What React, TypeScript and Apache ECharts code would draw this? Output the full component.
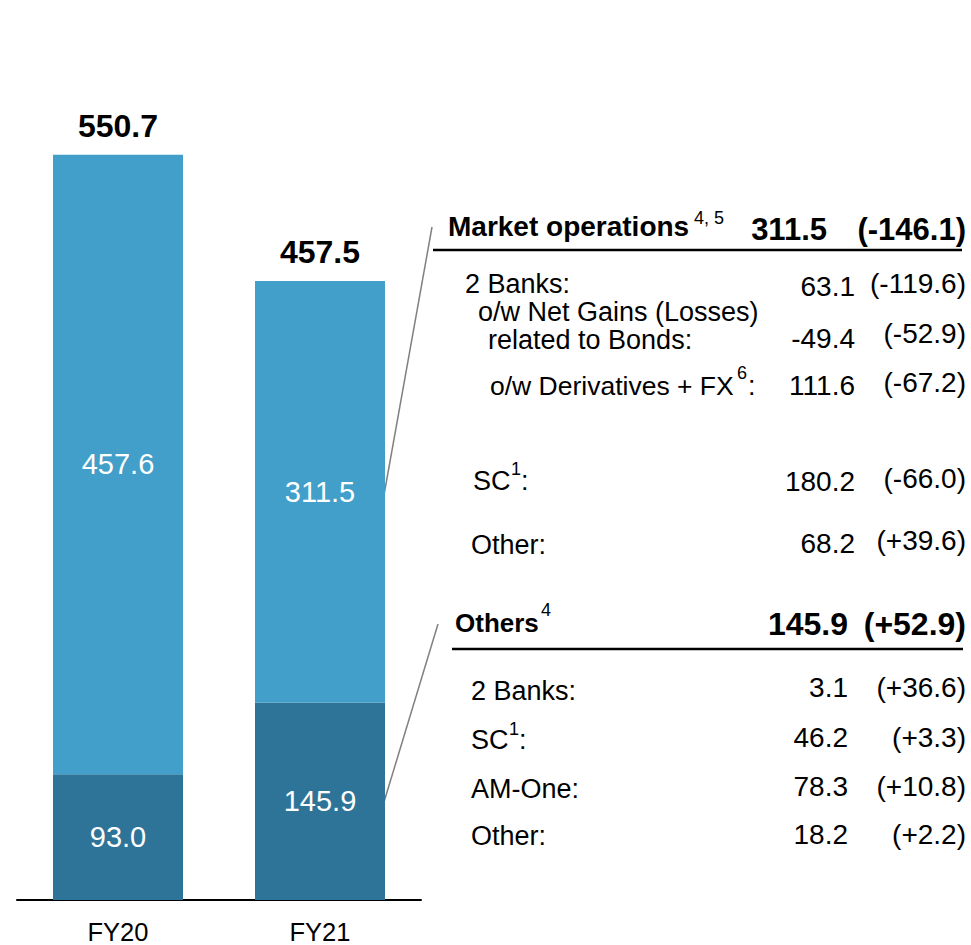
import React, { useEffect, useRef } from "react";
import * as echarts from "echarts";

const categories = ["FY20", "FY21"];
const othersValues = [93.0, 145.9];
const marketOpsValues = [457.6, 311.5];
const totals = [550.7, 457.5];

// Detail panel: Market operations
const moTitle = "Market operations";
const moTitleSup = "4, 5";
const moTotal = "311.5";
const moChange = "(-146.1)";
const moLabels = ["2 Banks:", "o/w Net Gains (Losses)", "related to Bonds:", "o/w Derivatives + FX", "SC", "Other:"];
const moValues = ["63.1", "-49.4", "111.6", "180.2", "68.2"];
const moChanges = ["(-119.6)", "(-52.9)", "(-67.2)", "(-66.0)", "(+39.6)"];

// Detail panel: Others
const otTitle = "Others";
const otTitleSup = "4";
const otTotal = "145.9";
const otChange = "(+52.9)";
const otLabels = ["2 Banks:", "SC", "AM-One:", "Other:"];
const otValues = ["3.1", "46.2", "78.3", "18.2"];
const otChanges = ["(+36.6)", "(+3.3)", "(+10.8)", "(+2.2)"];

const FONT = "'Liberation Sans', Arial, Helvetica, sans-serif";

function txt(text: string, x: number, y: number, opts: any = {}) {
  return {
    type: "text",
    x,
    y,
    style: {
      text,
      fill: "#000",
      font: `${opts.bold ? "bold " : ""}${opts.size || 27}px ${FONT}`,
      textAlign: opts.align || "left",
      textVerticalAlign: "middle",
    },
  };
}

export default function App() {
  const ref = useRef<HTMLDivElement>(null);
  useEffect(() => {
    if (!ref.current) return;
    const chart = echarts.init(ref.current, null, { renderer: "svg" });

    const graphic: any[] = [];
    const NUM = 28;
    // connectors
    graphic.push({ type: "line", shape: { x1: 384, y1: 495, x2: 432, y2: 227 }, style: { stroke: "#808080", lineWidth: 1.5 } });
    graphic.push({ type: "line", shape: { x1: 384, y1: 802, x2: 438, y2: 624 }, style: { stroke: "#808080", lineWidth: 1.5 } });

    // Market operations header
    graphic.push(txt(moTitle, 448, 226, { bold: true, size: 28 }));
    graphic.push(txt(moTitleSup, 694, 218, { size: 18 }));
    graphic.push(txt(moTotal, 827, 229, { bold: true, size: 31, align: "right" }));
    graphic.push(txt(moChange, 966, 229, { bold: true, size: 31, align: "right" }));
    graphic.push({ type: "line", shape: { x1: 433, y1: 250, x2: 962, y2: 250 }, style: { stroke: "#000", lineWidth: 2.5 } });

    // MO rows
    graphic.push(txt(moLabels[0], 465, 284));
    graphic.push(txt(moLabels[1], 478, 312));
    graphic.push(txt(moLabels[2], 488, 340));
    graphic.push(txt(moLabels[3], 490, 386, { size: 26.5 }));
    graphic.push(txt("6", 737, 373, { size: 18 }));
    graphic.push(txt(":", 748, 386));
    graphic.push(txt(moLabels[4], 473, 481));
    graphic.push(txt("1", 511, 469, { size: 18 }));
    graphic.push(txt(":", 521, 481));
    graphic.push(txt(moLabels[5], 471, 545));
    const moValY = [286, 338, 385, 481, 543];
    const moChgY = [283, 333, 382, 478, 540];
    moValues.forEach((v, i) => graphic.push(txt(v, 855, moValY[i], { align: "right", size: NUM })));
    moChanges.forEach((v, i) => graphic.push(txt(v, 966, moChgY[i], { align: "right", size: NUM })));

    // Others header
    graphic.push(txt(otTitle, 455, 623, { bold: true, size: 26 }));
    graphic.push(txt(otTitleSup, 541, 610, { size: 18 }));
    graphic.push(txt(otTotal, 848, 624, { bold: true, size: 32, align: "right" }));
    graphic.push(txt(otChange, 966, 624, { bold: true, size: 32, align: "right" }));
    graphic.push({ type: "line", shape: { x1: 452, y1: 649, x2: 963, y2: 649 }, style: { stroke: "#000", lineWidth: 2.5 } });

    const otLabY = [691, 740, 789, 836];
    const otValY = [687, 737, 786, 834];
    otLabels.forEach((l, i) => {
      graphic.push(txt(l, 471, otLabY[i]));
      if (l === "SC") {
        graphic.push(txt("1", 509, otLabY[i] - 11, { size: 18 }));
        graphic.push(txt(":", 519, otLabY[i]));
      }
    });
    otValues.forEach((v, i) => graphic.push(txt(v, 848, otValY[i], { align: "right", size: NUM })));
    otChanges.forEach((v, i) => graphic.push(txt(v, 966, otValY[i], { align: "right", size: NUM })));

    const innerLabel = {
      show: true,
      position: "inside",
      color: "#fff",
      fontSize: 29,
      fontFamily: FONT,
      formatter: (p: any) => p.value.toFixed(1),
    };

    chart.setOption({
      animation: false,
      grid: { left: 17, width: 404, top: 88, bottom: 42, containLabel: false },
      xAxis: {
        type: "category",
        data: categories,
        axisLine: { lineStyle: { color: "#000", width: 2 } },
        axisTick: { show: false },
        axisLabel: { color: "#000", fontSize: 25.5, fontFamily: FONT, margin: 19 },
      },
      yAxis: { type: "value", min: 0, max: 600, show: false, splitLine: { show: false } },
      series: [
        {
          name: "Others",
          type: "bar",
          stack: "total",
          barWidth: 130,
          data: othersValues,
          itemStyle: { color: "#2E7498" },
          label: innerLabel,
        },
        {
          name: "Market operations",
          type: "bar",
          stack: "total",
          barWidth: 130,
          data: marketOpsValues,
          itemStyle: { color: "#429FCA" },
          label: innerLabel,
        },
        {
          name: "Total",
          type: "bar",
          barWidth: 130,
          barGap: "-100%",
          data: totals,
          z: 0,
          itemStyle: { color: "rgba(0,0,0,0)" },
          label: {
            show: true,
            position: "top",
            distance: 13,
            color: "#000",
            fontSize: 32,
            fontWeight: "bold",
            fontFamily: FONT,
            formatter: (p: any) => p.value.toFixed(1),
          },
        },
      ],
      graphic,
    });
    return () => chart.dispose();
  }, []);
  return <div ref={ref} style={{ width: 971, height: 945, position: "absolute", left: 0, top: 0 }} />;
}
